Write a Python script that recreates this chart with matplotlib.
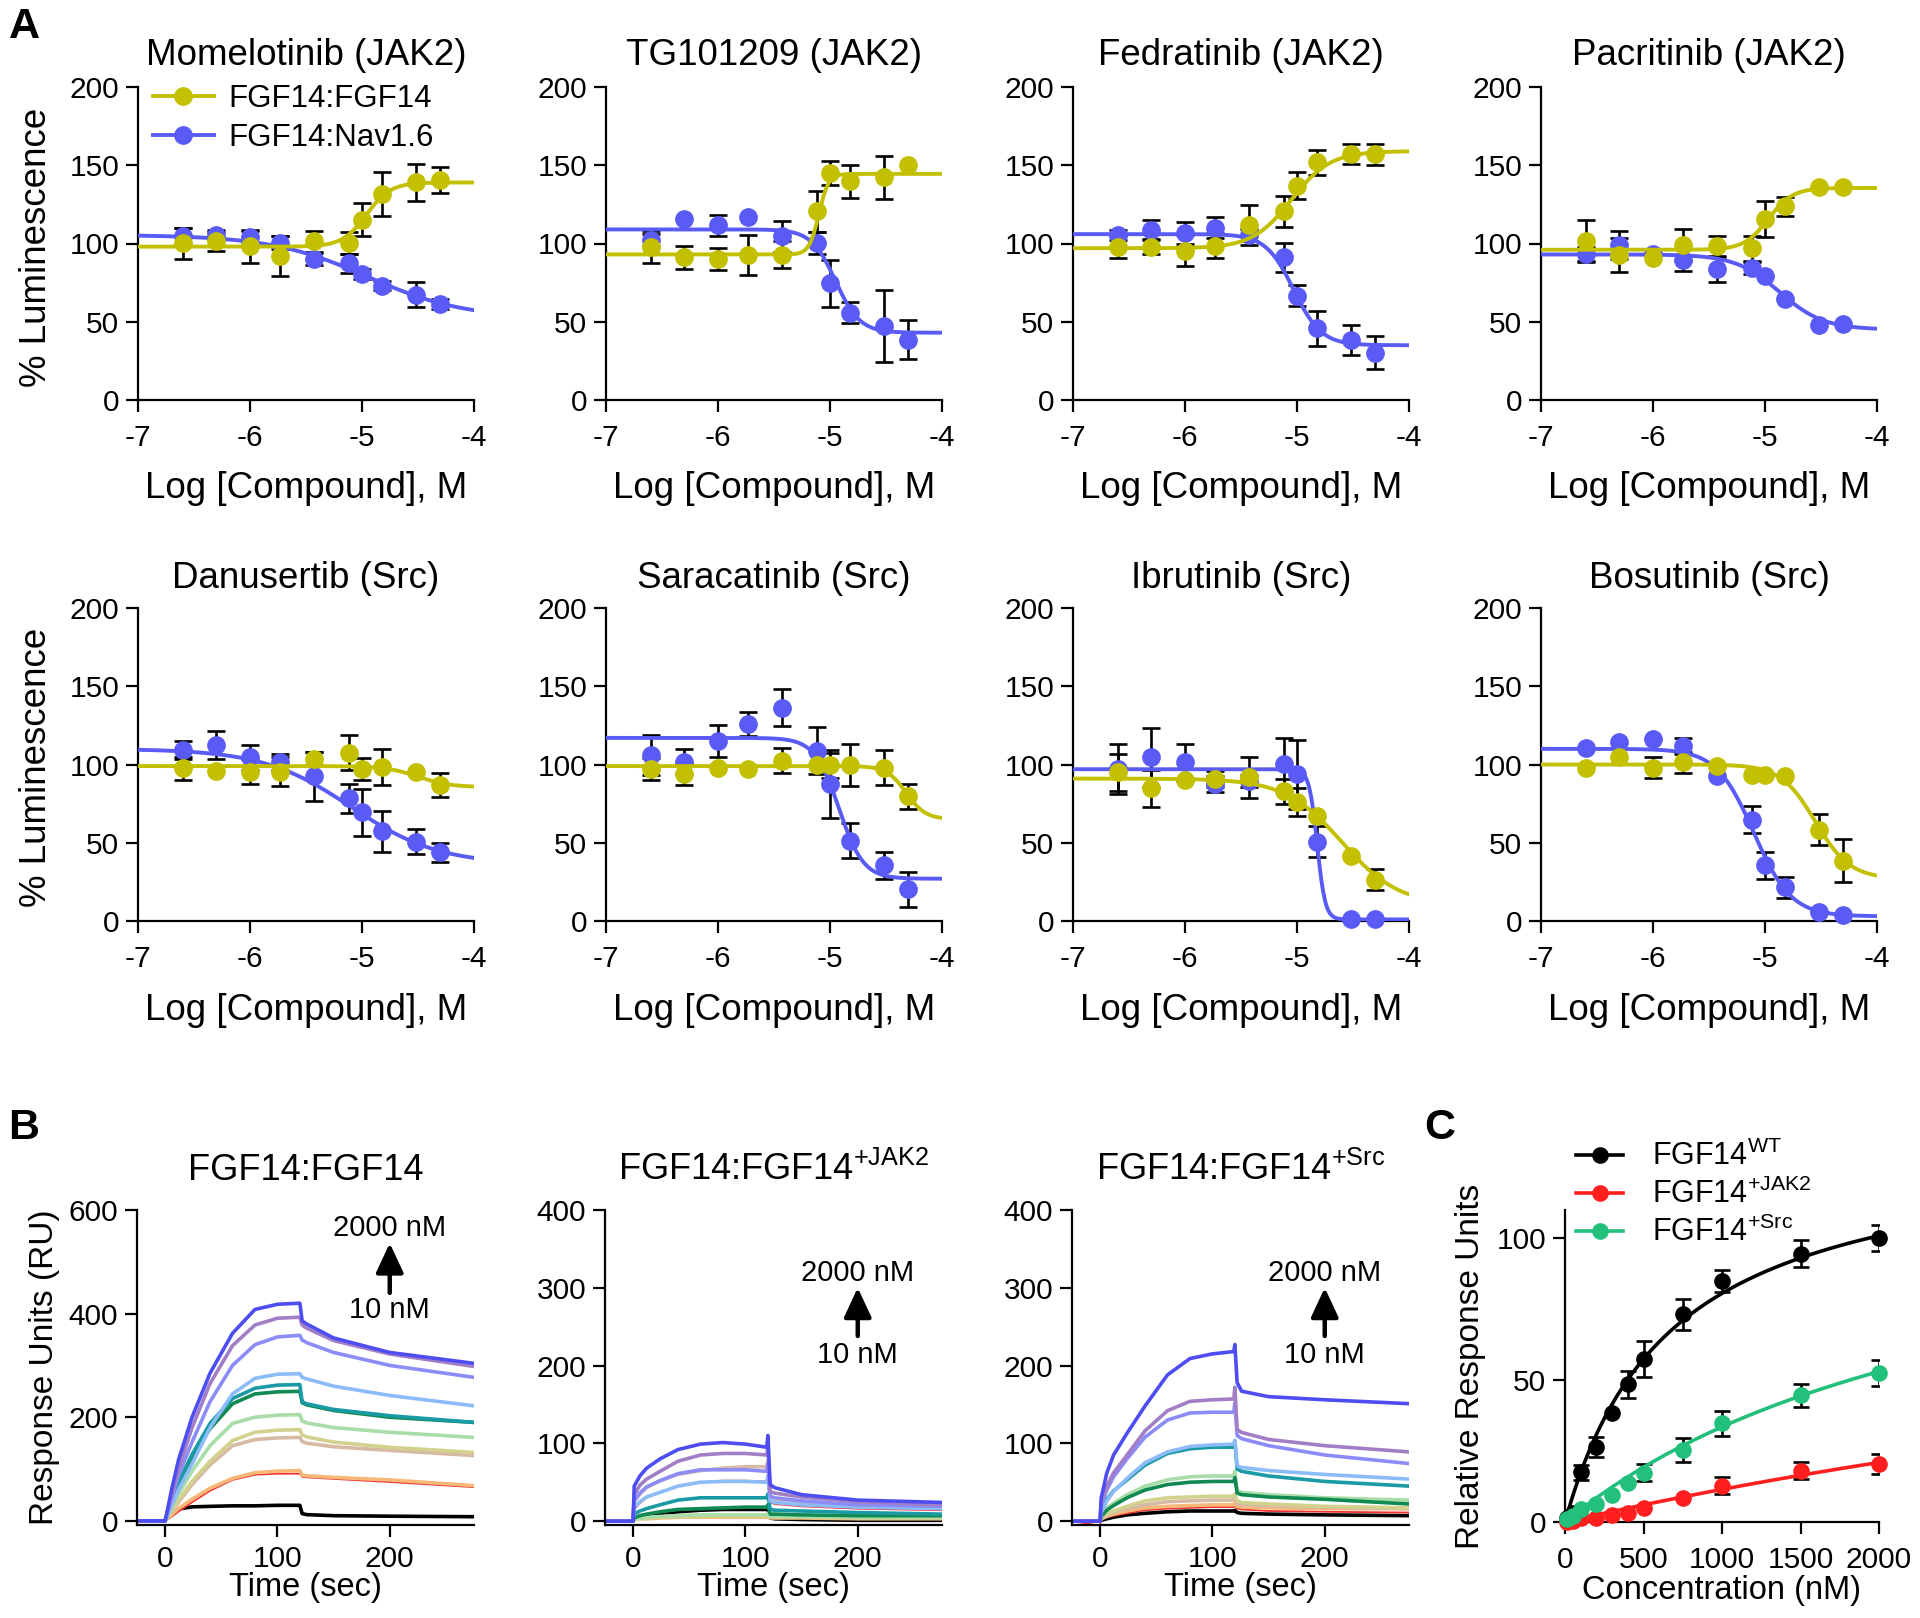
import numpy as np
import matplotlib
matplotlib.use('Agg')
import matplotlib.pyplot as plt
from matplotlib.lines import Line2D

plt.rcParams['font.family'] = ['Liberation Sans', 'DejaVu Sans']
plt.rcParams['mathtext.fontset'] = 'custom'
plt.rcParams['mathtext.rm'] = 'Liberation Sans'
plt.rcParams['mathtext.it'] = 'Liberation Sans:italic'
plt.rcParams['mathtext.bf'] = 'Liberation Sans:bold'
plt.rcParams['mathtext.default'] = 'rm'

# ---------------- Panel A data ----------------
log_conc = [-6.6, -6.3, -6.0, -5.73, -5.43, -5.12, -5.0, -4.82, -4.52, -4.3]
compounds = ["Momelotinib (JAK2)", "TG101209 (JAK2)", "Fedratinib (JAK2)", "Pacritinib (JAK2)",
             "Danusertib (Src)", "Saracatinib (Src)", "Ibrutinib (Src)", "Bosutinib (Src)"]
series_names = ["FGF14:FGF14", "FGF14:Nav1.6"]

ff_mean = [
    [100.2, 101.3, 98.1, 92.1, 101.3, 100.2, 115.1, 131.8, 139.0, 140.7],
    [97.7, 91.3, 90.0, 92.8, 92.8, 120.5, 145.0, 139.7, 142.2, 150.3],
    [98.0, 98.0, 95.5, 98.5, 112.0, 120.5, 137.0, 151.8, 157.0, 157.0],
    [101.9, 92.8, 90.6, 99.1, 98.5, 97.0, 115.6, 123.7, 136.0, 136.0],
    [97.5, 96.0, 95.5, 95.5, 103.8, 107.6, 97.0, 98.5, 95.5, 86.8],
    [97.0, 93.8, 98.0, 97.0, 102.3, 99.6, 99.6, 99.6, 98.0, 79.6],
    [95.0, 84.7, 90.0, 90.6, 91.7, 82.8, 75.8, 66.9, 41.8, 26.5],
    [98.0, 104.5, 98.0, 101.3, 99.2, 93.2, 93.2, 92.4, 58.4, 38.6],
]
ff_err = [
    [10, 6, 10.5, 13, 6.6, 7, 10.5, 14, 12, 8.5],
    [10, 7.4, 7.1, 12.8, 8.5, 13.3, 7.5, 10.4, 13.8, 0],
    [7, 5, 10, 8, 12.8, 10, 8.5, 7.8, 6.3, 6.7],
    [13.3, 10.7, 0, 10, 6.4, 8, 11.7, 6.2, 0, 0],
    [7.5, 0, 8, 9.5, 4, 11, 7, 11.7, 0, 7.5],
    [7, 7, 0, 0, 8, 0, 8, 13.5, 11, 8],
    [12, 12, 0, 5, 13, 8, 9, 0, 0, 7],
    [0, 0, 6.6, 7, 0, 0, 0, 0, 10, 13.8],
]
nav_mean = [
    [105.0, 105.5, 104.0, 100.6, 90.0, 87.4, 80.4, 73.1, 67.2, 61.4],
    [102.3, 115.8, 111.6, 116.8, 104.5, 100.6, 74.6, 55.9, 47.3, 38.4],
    [105.5, 108.7, 106.6, 110.2, 105.5, 91.3, 66.7, 45.8, 38.4, 30.3],
    [93.0, 99.0, 93.0, 89.6, 83.6, 84.2, 79.3, 64.4, 48.0, 48.6],
    [109.3, 112.3, 104.5, 101.7, 92.4, 78.3, 69.4, 57.3, 50.7, 44.0],
    [106.0, 101.7, 115.0, 125.7, 136.3, 108.7, 87.5, 51.4, 35.5, 20.2],
    [97.0, 104.5, 101.3, 87.5, 89.6, 100.2, 93.8, 50.7, 1.5, 1.5],
    [110.8, 114.4, 116.6, 111.9, 92.4, 64.8, 35.5, 21.7, 5.7, 3.6],
]
nav_err = [
    [5, 3, 4, 4, 4, 6, 3, 3, 8, 3],
    [4, 0, 6.7, 0, 10, 7, 15, 7, 22.7, 12.4],
    [3, 6.5, 7, 7, 4, 9.3, 6.7, 11, 9.6, 10.7],
    [5, 9, 0, 7, 8, 4, 0, 0, 0, 0],
    [6, 9, 8, 5, 15.5, 9.5, 15, 13, 8, 6],
    [12.7, 8, 10.3, 7.6, 11.7, 15, 21.7, 11, 8.5, 11.3],
    [16, 19, 12, 5, 4, 17, 22, 10, 0, 0],
    [0, 0, 0, 5, 0, 8.7, 8.5, 6.7, 0, 0],
]
# fitted 4-parameter curves: (left plateau, right plateau, logEC50, Hill)
ff_fit = [
    (98, 139, -4.96, 4.0), (93, 144.5, -5.1, 10.0), (97, 159, -5.05, 2.5), (96, 135.5, -4.97, 4.0),
    (99, 85.5, -4.5, 3.0), (99, 65, -4.32, 5.0), (91, 10, -4.6, 1.7), (100, 27, -4.55, 2.8),
]
nav_fit = [
    (105.5, 52, -4.95, 1.0), (109, 43, -4.95, 4.0), (106, 35, -5.03, 3.5), (93, 45, -4.87, 2.2),
    (110, 36, -5.1, 1.1), (117, 27, -4.92, 4.0), (97, 1, -4.82, 12.0), (110, 3, -5.1, 2.6),
]

# ---------------- Panel B data ----------------
b_titles = ["FGF14:FGF14", r"FGF14:FGF14$^{\mathregular{+JAK2}}$", r"FGF14:FGF14$^{\mathregular{+Src}}$"]
b_time = [-25, 0, 1, 6, 12, 24, 40, 60, 80, 100, 119, 120, 122, 126, 150, 200, 275]
b_colors = ['#4d4df2', '#a27ec6', '#8c8cf8', '#8cbcf8', '#1a9aa4', '#108a52',
            '#a8dca8', '#d2d28e', '#d6baa4', '#f8b878', '#f03232', '#000000']
b_lws = [2.6, 2.6, 2.6, 2.6, 2.6, 2.6, 2.6, 2.6, 2.6, 2.6, 1.3, 2.6]
b1_ff = [
    [0, 0, 10, 62, 118, 200, 285, 362, 408, 418, 420, 420, 386, 380, 353, 325, 304],
    [0, 0, 8, 52, 100, 180, 265, 338, 378, 391, 393, 393, 378, 372, 348, 322, 298],
    [0, 0, 7, 45, 88, 152, 230, 300, 340, 355, 358, 358, 349, 344, 325, 300, 277],
    [0, 0, 5, 30, 60, 110, 180, 245, 275, 283, 284, 284, 277, 274, 260, 242, 222],
    [0, 0, 6, 40, 75, 128, 188, 236, 256, 262, 263, 263, 230, 226, 215, 203, 190],
    [0, 0, 5, 36, 70, 122, 178, 226, 245, 249, 250, 250, 228, 224, 213, 200, 190],
    [0, 0, 4, 26, 52, 96, 145, 188, 200, 204, 205, 205, 193, 189, 180, 171, 161],
    [0, 0, 3, 20, 40, 76, 115, 155, 171, 175, 176, 176, 166, 162, 152, 142, 132],
    [0, 0, 3, 18, 36, 70, 108, 145, 157, 160, 161, 161, 153, 150, 143, 136, 126],
    [0, 0, 2, 12, 24, 42, 63, 82, 93, 96, 97, 97, 88, 87, 84, 79, 68],
    [0, 0, 1, 8, 18, 36, 58, 79, 89, 91, 91, 91, 85, 84, 81, 75, 65],
    [0, 0, 6, 18, 23, 27, 28, 29, 29, 30, 30, 30, 14, 12, 10, 9, 8],
]
b2_jak2 = [
    [0, 0, 45, 58, 68, 80, 92, 99, 101, 99, 95, 110, 47, 43, 34, 27, 24],
    [0, 0, 34, 46, 54, 64, 77, 85, 87, 87, 85, 96, 38, 36, 31, 25, 21],
    [0, 0, 26, 36, 44, 52, 61, 66, 66, 66, 64, 74, 32, 30, 26, 21, 19],
    [0, 0, 17, 25, 31, 37, 45, 50, 51, 51, 50, 58, 26, 24, 21, 18, 16],
    [0, 0, 9, 13, 16, 21, 27, 30, 30, 30, 30, 35, 15, 14, 13, 11, 9],
    [0, 0, 4, 7, 9, 12, 15, 16, 17, 18, 18, 21, 9, 9, 8, 7, 7],
    [0, 0, 3, 4, 5, 6, 7, 8, 8, 8, 8, 10, 6, 6, 6, 5, 5],
    [0, 0, 2, 3, 4, 5, 6, 6, 7, 7, 7, 8, 5, 5, 5, 4, 4],
    [0, 0, 25, 35, 43, 52, 60, 65, 68, 70, 70, 78, 30, 28, 24, 20, 18],
    [0, 0, 2, 3, 3, 4, 5, 5, 5, 5, 5, 6, 4, 4, 4, 3, 3],
    [0, 0, 15, 23, 30, 37, 45, 50, 52, 52, 51, 58, 24, 22, 19, 16, 14],
    [0, 0, 3, 6, 8, 10, 12, 14, 15, 15, 15, 16, 4, 3, 2, 1, 1],
]
b3_src = [
    [0, 0, 30, 62, 85, 113, 148, 188, 209, 215, 218, 227, 178, 167, 160, 156, 151],
    [0, 0, 24, 45, 62, 85, 116, 142, 154, 156, 157, 172, 118, 114, 105, 97, 89],
    [0, 0, 21, 40, 57, 80, 108, 130, 139, 140, 140, 152, 110, 106, 97, 85, 74],
    [0, 0, 11, 26, 38, 55, 75, 89, 96, 98, 99, 104, 71, 69, 65, 60, 54],
    [0, 0, 13, 28, 39, 53, 72, 87, 93, 95, 95, 103, 67, 64, 58, 51, 45],
    [0, 0, 6, 14, 20, 30, 40, 47, 50, 51, 51, 56, 36, 34, 31, 28, 22],
    [0, 0, 8, 17, 23, 34, 45, 53, 57, 58, 58, 64, 39, 37, 34, 30, 27],
    [0, 0, 4, 9, 13, 19, 26, 30, 31, 32, 32, 35, 26, 24, 22, 19, 17],
    [0, 0, 3, 7, 11, 16, 21, 25, 26, 27, 27, 29, 22, 21, 20, 18, 16],
    [0, 0, 3, 6, 9, 13, 17, 19, 20, 21, 21, 23, 19, 18, 17, 16, 16],
    [0, -6, 2, 5, 7, 10, 14, 16, 17, 18, 18, 20, 16, 15, 13, 12, 11],
    [0, 0, 1, 3, 5, 8, 10, 12, 13, 13, 13, 14, 11, 10, 9, 8, 7],
]
b_sets = [b1_ff, b2_jak2, b3_src]

# ---------------- Panel C data ----------------
c_conc = [10, 50, 100, 200, 300, 400, 500, 750, 1000, 1500, 2000]
c_labels = [r"FGF14$^{\mathregular{WT}}$", r"FGF14$^{\mathregular{+JAK2}}$", r"FGF14$^{\mathregular{+Src}}$"]
c_wt = [1.5, 3.0, 17.5, 26.5, 38.5, 48.6, 57.5, 73.2, 85.0, 94.6, 100.0]
c_wt_err = [0, 0, 2.7, 3.6, 0, 4.8, 6.3, 5.4, 4.0, 4.8, 4.6]
c_jak2 = [0.0, 0.5, 1.5, 1.5, 2.5, 3.0, 4.9, 8.4, 12.7, 18.1, 20.5]
c_jak2_err = [0, 0, 0, 0, 0, 0, 0, 0, 3.0, 3.0, 3.5]
c_src = [1.0, 2.0, 4.5, 6.5, 9.5, 13.7, 17.3, 25.3, 34.8, 44.6, 52.5]
c_src_err = [0, 0, 0, 0, 0, 0, 3.0, 4.3, 4.5, 4.2, 4.5]
# one-site binding fits: (Bmax, Kd)
c_fits = [(135, 675), (120.75, 9500), (127, 2788)]
c_colors = ['#000000', '#ff1f1f', '#22c07a']

# ---------------- figure ----------------
W, H = 1920, 1618
fig = plt.figure(figsize=(W / 100, H / 100), dpi=100)
YEL = '#c2c000'
BLU = '#5a5af5'


def add_ax(left, top, right, bottom, tick_size=21.5, xpad=5):
    ax = fig.add_axes([left / W, 1 - bottom / H, (right - left) / W, (bottom - top) / H])
    for s in ['top', 'right']:
        ax.spines[s].set_visible(False)
    for s in ['left', 'bottom']:
        ax.spines[s].set_linewidth(1.6)
    ax.tick_params(direction='out', length=8.5, width=1.6, labelsize=tick_size, pad=5)
    ax.tick_params(axis='x', pad=xpad)
    return ax


def ftext(x, y, s, **kw):
    fig.text(x / W, 1 - y / H, s, **kw)


def four_pl(x, left, right, logec, hill):
    return right + (left - right) / (1 + 10 ** ((x - logec) * hill))


a_lefts = [138, 606, 1073, 1541]
a_tops = [87, 608]
a_w, a_h = 336, 313
title_base = [65, 588]
xlabel_base = [498, 1020]
ylabel_cy = [247, 767]
xs = np.linspace(-7, -4, 400)
lc = np.array(log_conc)

for i, name in enumerate(compounds):
    r, c = divmod(i, 4)
    L, T = a_lefts[c], a_tops[r]
    ax = add_ax(L, T, L + a_w, T + a_h, xpad=9)
    for mean, err, fit, col, z in [(nav_mean[i], nav_err[i], nav_fit[i], BLU, 3),
                                   (ff_mean[i], ff_err[i], ff_fit[i], YEL, 4)]:
        m = np.array(mean)
        e = np.array(err, dtype=float)
        k = e > 0
        ax.errorbar(lc[k], m[k], yerr=e[k], fmt='none', ecolor='black', elinewidth=1.9,
                    capsize=6.5, capthick=1.9, zorder=2, clip_on=False)
        ax.plot(xs, four_pl(xs, *fit), color=col, lw=2.8, zorder=z)
        ax.plot(lc, m, 'o', color=col, ms=13.5, zorder=z + 0.5, clip_on=False, mew=0)
    ax.set_xlim(-7, -4)
    ax.set_ylim(0, 200)
    ax.set_xticks([-7, -6, -5, -4])
    ax.set_xticklabels(['-7', '-6', '-5', '-4'])
    ax.set_yticks([0, 50, 100, 150, 200])
    cx = L + a_w / 2
    ftext(cx, title_base[r], name, ha='center', va='baseline', fontsize=26.5)
    ftext(cx, xlabel_base[r], 'Log [Compound], M', ha='center', va='baseline', fontsize=26.5)
    if c == 0:
        ftext(37, ylabel_cy[r], '% Luminescence', ha='center', va='center', rotation=90, fontsize=26.5)
    if i == 0:
        handles = [Line2D([], [], color=YEL, lw=2.8, marker='o', ms=13.5, mew=0),
                   Line2D([], [], color=BLU, lw=2.8, marker='o', ms=13.5, mew=0)]
        ax.legend(handles, series_names, loc='upper left', bbox_to_anchor=(153 / W, 1 - 84 / H),
                  bbox_transform=fig.transFigure, frameon=False, fontsize=22.5, handlelength=1.95,
                  handletextpad=0.45, labelspacing=0.3, borderpad=0, borderaxespad=0)

# Panel B
b_lefts = [137, 605, 1072]
b_w = 337
for j in range(3):
    L = b_lefts[j]
    ax = add_ax(L, 1210, L + b_w, 1525, xpad=6)
    for trace, col, lw in reversed(list(zip(b_sets[j], b_colors, b_lws))):
        ax.plot(b_time, trace, color=col, lw=lw, solid_joinstyle='round')
    ax.set_xlim(-25, 275)
    ax.set_xticks([0, 100, 200])
    if j == 0:
        ax.set_ylim(-8, 600)
        ax.set_yticks([0, 200, 400, 600])
        ytxt, yhead, ytail, ylow = 565, 536, 440, 407
    else:
        ax.set_ylim(-5, 400)
        ax.set_yticks([0, 100, 200, 300, 400])
        ytxt, yhead, ytail, ylow = 319, 300, 238, 214
    ax.text(200, ytxt, '2000 nM', ha='center', va='center', fontsize=21)
    ax.text(200, ylow, '10 nM', ha='center', va='center', fontsize=21)
    ax.annotate('', xy=(200, yhead), xytext=(200, ytail),
                arrowprops=dict(arrowstyle='-|>,head_length=0.9,head_width=0.42', lw=3.2,
                                color='black', shrinkA=0, shrinkB=0, mutation_scale=20))
    cx = L + b_w / 2
    ftext(cx, 1180, b_titles[j], ha='center', va='baseline', fontsize=26)
    ftext(cx, 1596, 'Time (sec)', ha='center', va='baseline', fontsize=23.5)
ftext(45, 1367, 'Response Units (RU)', ha='center', va='center', rotation=90, fontsize=24)

# Panel C
ax = add_ax(1565, 1210, 1879, 1522, xpad=9)
xc = np.linspace(0, 2000, 400)
cc = np.array(c_conc)
c_handles = []
for mean, err, fit, col in [(c_wt, c_wt_err, c_fits[0], c_colors[0]),
                            (c_jak2, c_jak2_err, c_fits[1], c_colors[1]),
                            (c_src, c_src_err, c_fits[2], c_colors[2])]:
    m = np.array(mean)
    e = np.array(err, dtype=float)
    k = e > 0
    ax.errorbar(cc[k], m[k], yerr=e[k], fmt='none', ecolor='black', elinewidth=1.9,
                capsize=5.5, capthick=1.9, zorder=2)
    bmax, kd = fit
    ax.plot(xc, bmax * xc / (kd + xc), color=col, lw=2.6, zorder=3)
    ax.plot(cc, m, 'o', color=col, ms=12, mew=0, zorder=4, clip_on=False)
    c_handles.append(Line2D([], [], color=col, lw=2.6, marker='o', ms=12, mew=0))
ax.set_xlim(0, 2000)
ax.set_ylim(0, 110)
ax.set_xticks([0, 500, 1000, 1500, 2000])
ax.set_yticks([0, 50, 100])
ax.legend(c_handles, c_labels, loc='upper left', bbox_to_anchor=(1576 / W, 1 - 1141 / H),
          bbox_transform=fig.transFigure, frameon=False, fontsize=22, handlelength=1.55,
          handletextpad=0.95, labelspacing=0.22, borderpad=0, borderaxespad=0)
ftext(1722, 1599, 'Concentration (nM)', ha='center', va='baseline', fontsize=23.5)
ftext(1470, 1366, 'Relative Response Units', ha='center', va='center', rotation=90, fontsize=24)

# panel letters
ftext(24, 27, 'A', ha='center', va='center', fontsize=31, fontweight='bold')
ftext(24, 1128, 'B', ha='center', va='center', fontsize=31, fontweight='bold')
ftext(1440, 1128, 'C', ha='center', va='center', fontsize=31, fontweight='bold')

fig.savefig('out.png', dpi=100)
